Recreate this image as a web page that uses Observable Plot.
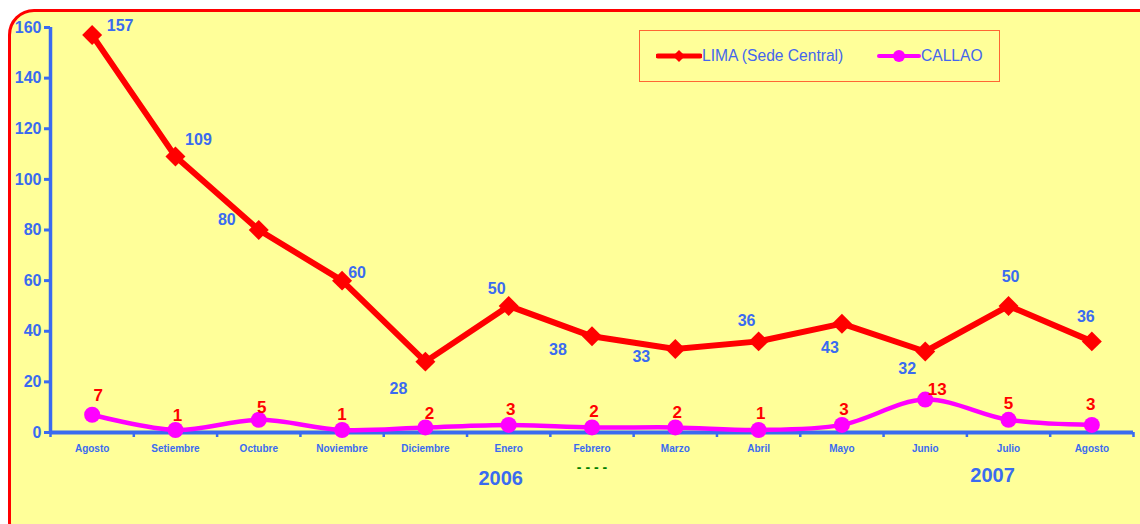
<!DOCTYPE html>
<html>
<head>
<meta charset="utf-8">
<script src="https://cdn.jsdelivr.net/npm/d3@7"></script>
<script src="https://cdn.jsdelivr.net/npm/@observablehq/plot@0.6"></script>
<style>
  html, body { margin: 0; padding: 0; background: #ffffff; width: 1140px; height: 524px; overflow: hidden; }
  #frame { position: absolute; left: 8px; top: 9px; width: 1160px; height: 540px; box-sizing: border-box;
           border: 3.5px solid #ff0000; border-radius: 26px; background: #ffff99; }
  #chart { position: absolute; left: 0; top: 0; }
  #legend { position: absolute; left: 639px; top: 30px; width: 361px; height: 52px; box-sizing: border-box;
            border: 1px solid #ff6633; font-family: "Liberation Sans", Arial, sans-serif; font-size: 15.6px; color: #4466ee; }
  .item { position: absolute; top: 15px; display: flex; align-items: center; }
</style>
</head>
<body>
<div id="frame"></div>
<div id="chart"></div>
<div id="legend">
  <div class="item" style="left:16px"><svg width="46" height="20"><line x1="2" y1="10" x2="44" y2="10" stroke="#ff0000" stroke-width="5" stroke-linecap="round"/><path d="M23,4 L29,10 L23,16 L17,10 Z" fill="#ff0000"/></svg><span>LIMA (Sede Central)</span></div>
  <div class="item" style="left:237px"><svg width="44" height="20"><line x1="2" y1="10" x2="42" y2="10" stroke="#ff00ff" stroke-width="4" stroke-linecap="round"/><circle cx="22" cy="10" r="6" fill="#ff00ff"/></svg><span>CALLAO</span></div>
</div>
<script>
const months = ["Agosto","Setiembre","Octubre","Noviembre","Diciembre","Enero","Febrero","Marzo","Abril","Mayo","Junio","Julio","Agosto"];
const lima = [157,109,80,60,28,50,38,33,36,43,32,50,36];
const callao = [7,1,5,1,2,3,2,2,1,3,13,5,3];
const yTicks = [0,20,40,60,80,100,120,140,160];
const years = ["2006", "2007"];

// label offsets (styling only)
const limaDx = [28,23,-32,15,-27,-12,-34,-34,-12,-12,-18,2,-6];
const limaDy = [-9,-17,-10,-8,27,-17,14,8,-21,24,17,-29,-25];
const callaoDx = [6,2,3,0,4,2,2,2,2,2,12,0,-1];
const callaoDy = [-19,-14,-12,-15,-14,-15,-16,-15,-16,-15,-10,-16,-20];

const blue = "#3a6bf0";
const font = "'Liberation Sans', Arial, sans-serif";
const L = lima.map((v,i)=>({i, v, m: months[i]}));
const C = callao.map((v,i)=>({i, v, m: months[i]}));

const chart = Plot.plot({
  width: 1140, height: 524,
  marginLeft: 50, marginRight: 7, marginTop: 27, marginBottom: 92,
  style: { background: "transparent", fontFamily: font, overflow: "visible" },
  x: { type: "linear", domain: [-0.5, 12.5], axis: null },
  y: { type: "linear", domain: [0, 160], axis: null },
  marks: [
    Plot.axisY({ ticks: yTicks, label: null, tickSize: 6, stroke: blue, strokeWidth: 3, fill: blue, fontSize: 16, fontWeight: "bold", tickPadding: 3, tickFormat: d => d }),
    Plot.axisX({ ticks: d3.range(14).map(k => k - 0.5), label: null, tickSize: 5, stroke: blue, strokeWidth: 2.5, tickFormat: () => "" }),
    Plot.ruleX([-0.5], { y1: 0, y2: 160, stroke: blue, strokeWidth: 3.5 }),
    Plot.ruleY([0], { x1: -0.5, x2: 12.5, stroke: blue, strokeWidth: 4 }),
    Plot.text(months, { x: (d,i) => i, y: () => 0, text: d => d, dy: 16, fill: blue, fontSize: 10, fontWeight: "bold" }),
    Plot.text([years[0]], { x: () => 5, y: () => 0, text: d => d, dy: 46, dx: -8, fill: blue, fontSize: 20, fontWeight: "bold" }),
    Plot.text([years[1]], { x: () => 11, y: () => 0, text: d => d, dy: 43, dx: -16, fill: blue, fontSize: 20, fontWeight: "bold" }),
    Plot.text(["- - - -"], { x: () => 6, y: () => 0, text: d => d, dy: 35, fill: "#008000", fontSize: 14, fontWeight: "bold" }),
    Plot.line(C, { x: "i", y: "v", stroke: "#ff00ff", strokeWidth: 4.5, curve: "catmull-rom" }),
    Plot.dot(C, { x: "i", y: "v", r: 8, fill: "#ff00ff" }),
    Plot.line(L, { x: "i", y: "v", stroke: "#ff0000", strokeWidth: 6 }),
    Plot.dot(L, { x: "i", y: "v", r: 9, symbol: "diamond2", fill: "#ff0000" }),
    ...L.map(d => Plot.text([d], { x: "i", y: "v", text: d => String(d.v), dx: limaDx[d.i], dy: limaDy[d.i], fill: blue, fontSize: 16, fontWeight: "bold" })),
    ...C.map(d => Plot.text([d], { x: "i", y: "v", text: d => String(d.v), dx: callaoDx[d.i], dy: callaoDy[d.i], fill: "#ff0000", fontSize: 17, fontWeight: "bold" }))
  ]
});
document.getElementById("chart").appendChild(chart);
</script>
</body>
</html>
